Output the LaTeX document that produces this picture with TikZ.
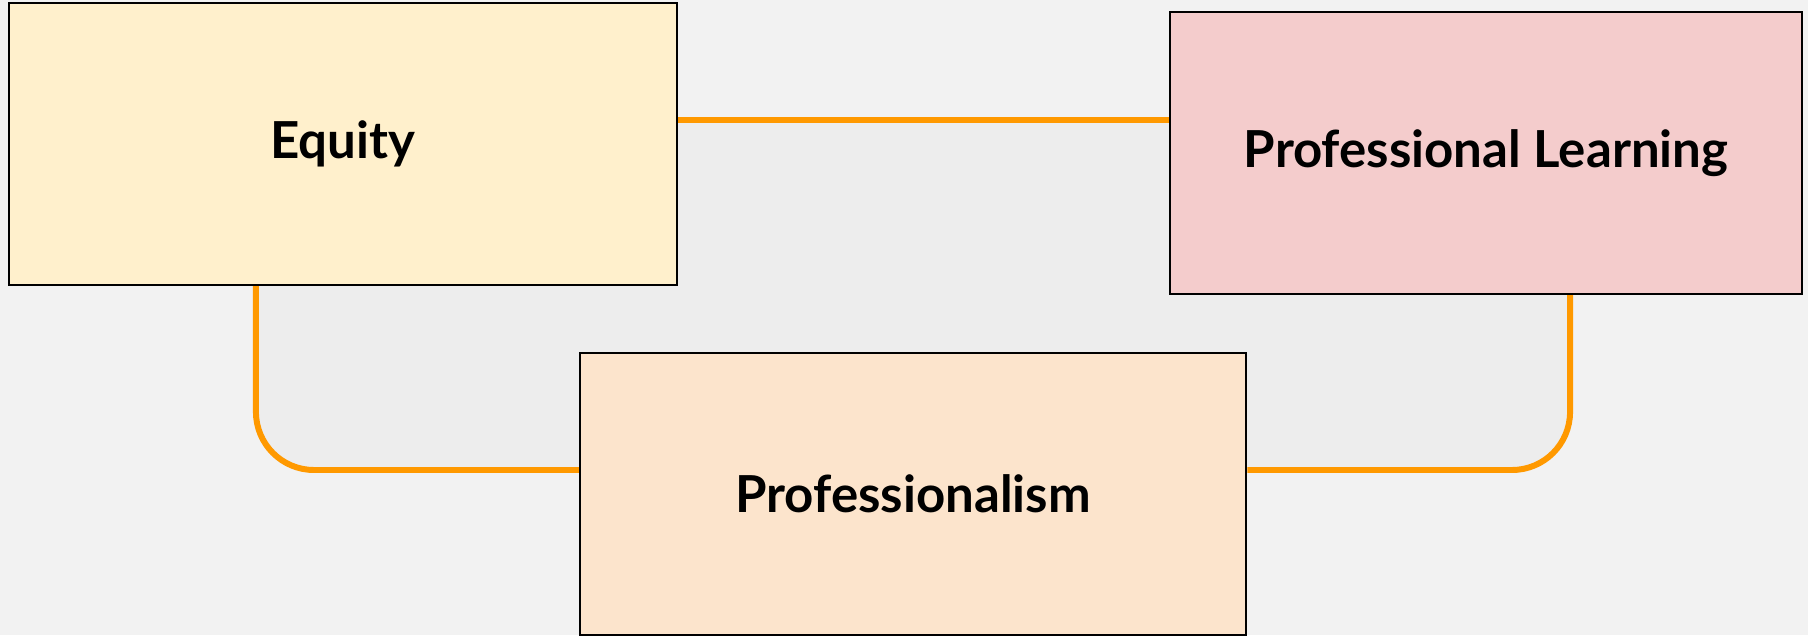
\documentclass[tikz,border=0pt]{standalone}
\usepackage{fontspec}
\setmainfont{Lato}
\usetikzlibrary{positioning}
\definecolor{paper}{HTML}{F2F2F2}
\definecolor{innerarea}{HTML}{EDEDED}
\definecolor{equityfill}{HTML}{FFF0CC}
\definecolor{learningfill}{HTML}{F4CCCC}
\definecolor{proffill}{HTML}{FCE4CC}
\definecolor{linkorange}{HTML}{FF9900}
\tikzstyle{topic} = [rectangle, minimum width=6.68cm, minimum height=2.82cm, text centered, draw=black, line width=0.6pt, font=\fontsize{14.5}{17}\selectfont\bfseries]
\tikzstyle{link} = [draw=linkorange, line width=1.7pt, rounded corners=0.58cm]

\begin{document}
\begin{tikzpicture}[x=0.01cm, y=-0.01cm]
\fill [paper] (0,0) rectangle (1808,635);
\useasboundingbox (0,0) rectangle (1808,635);
\fill [innerarea, rounded corners=0.58cm] (256,120) -- (256,470) -- (1570,470) -- (1570,120) -- cycle;
\node (equity) [topic, fill=equityfill] at (343,144) {Equity};
\node (learning) [topic, fill=learningfill, minimum width=6.31cm] at (1486,153) {Professional Learning};
\node (prof) [topic, fill=proffill, minimum width=6.66cm] at (913,494) {Professionalism};
\draw [link] ([yshift=0.24cm]equity.east) -- ([yshift=0.24cm]equity.east -| learning.west);
\draw [link] ([xshift=-0.87cm]equity.south) |- ([yshift=0.24cm]prof.west);
\draw [link] ([xshift=0.84cm]learning.south) |- ([yshift=0.24cm]prof.east);
\end{tikzpicture}
\end{document}
